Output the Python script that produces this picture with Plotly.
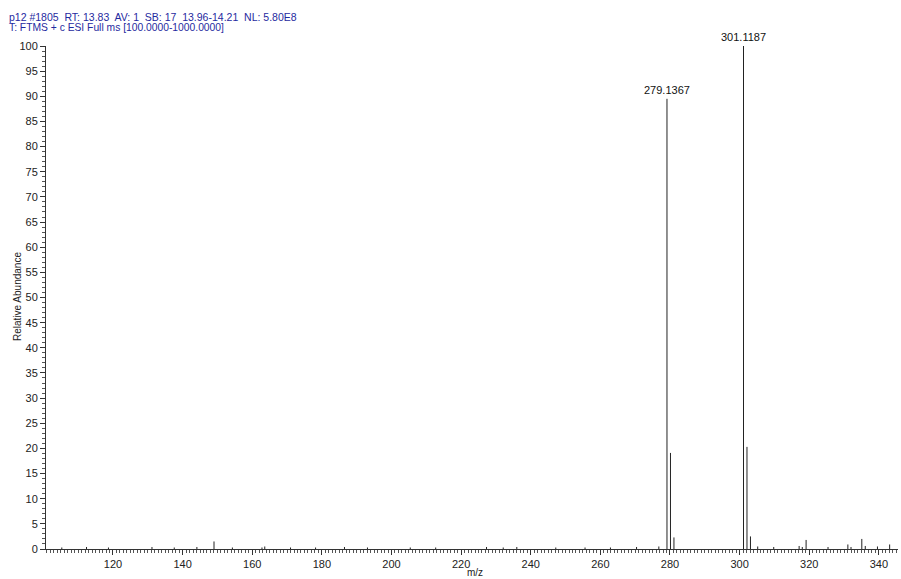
import plotly.graph_objects as go

# Spectrum peaks (m/z, relative abundance %)
mz = [149.02, 279.1367, 280.14, 281.14, 301.1187, 302.12, 303.12,
      317.1, 318.0, 319.1, 331.1, 332.0, 335.1, 336.1, 343.1,
      105.3, 112.4, 118.7, 131.2, 137.6, 144.1, 154.3, 162.8, 163.6, 171.0,
      178.2, 186.5, 193.1, 205.4, 212.7, 227.3, 232.1, 236.0, 247.2,
      255.6, 262.9, 270.4, 276.8, 305.2, 309.8, 325.4, 339.6]
intensity = [1.5, 89.5, 19.1, 2.3, 100.0, 20.3, 2.5,
             0.6, 0.4, 1.8, 0.9, 0.4, 2.0, 0.6, 0.9,
             0.3, 0.4, 0.3, 0.4, 0.3, 0.4, 0.3, 0.3, 0.5, 0.3,
             0.3, 0.4, 0.3, 0.3, 0.3, 0.4, 0.3, 0.4, 0.3,
             0.3, 0.3, 0.4, 0.5, 0.5, 0.4, 0.4, 0.5]
labels = {279.1367: "279.1367", 301.1187: "301.1187"}

header1 = "p12 #1805  RT: 13.83  AV: 1  SB: 17  13.96-14.21  NL: 5.80E8"
header2 = "T: FTMS + c ESI Full ms [100.0000-1000.0000]"

W, H = 901, 579
L, R, T, B = 46, 3, 46, 30
PW, PH = W - L - R, H - T - B

def px_x(p):
    return (p - L) / PW

def px_y(p):
    return (H - B - p) / PH

xs, ys = [], []
for m, h in zip(mz, intensity):
    xs += [m, m, None]
    ys += [0, h, None]

fig = go.Figure()
fig.add_trace(go.Scatter(x=xs, y=ys, mode="lines",
                         line=dict(color="#222222", width=1),
                         hoverinfo="skip", showlegend=False))

for m, t in labels.items():
    h = intensity[mz.index(m)]
    fig.add_annotation(x=m, y=h, text=t, showarrow=False, yshift=9,
                       font=dict(size=11, color="#111111"))

blue = "#1f2aa0"
fig.add_annotation(xref="paper", yref="paper", x=px_x(7), y=px_y(9),
                   xanchor="left", yanchor="top", showarrow=False,
                   text=header1, font=dict(size=10.5, color=blue))
fig.add_annotation(xref="paper", yref="paper", x=px_x(7), y=px_y(20),
                   xanchor="left", yanchor="top", showarrow=False,
                   text=header2, font=dict(size=10.3, color=blue))
fig.add_annotation(xref="paper", yref="paper", x=px_x(475), y=px_y(572),
                   xanchor="center", yanchor="middle", showarrow=False,
                   text="m/z", font=dict(size=10, color="#222222"))
fig.add_annotation(xref="paper", yref="paper", x=px_x(17), y=px_y(297),
                   xanchor="center", yanchor="middle", showarrow=False,
                   textangle=-90,
                   text="Relative Abundance", font=dict(size=10, color="#222222"))

fig.update_layout(
    width=W, height=H,
    margin=dict(l=L, r=R, t=T, b=B),
    paper_bgcolor="white", plot_bgcolor="white",
    font=dict(family="Liberation Sans, Arial, sans-serif", size=11, color="#222222"),
    xaxis=dict(range=[100.76, 345.5], showgrid=False, zeroline=False,
               automargin=False,
               showline=True, linecolor="#333333", linewidth=1,
               tick0=0, dtick=20, ticks="outside", ticklen=5, tickcolor="#333333",
               minor=dict(ticks="outside", ticklen=3, dtick=1, tickcolor="#555555"),
               ),
    yaxis=dict(range=[0, 100], showgrid=False, zeroline=False,
               automargin=False,
               showline=True, linecolor="#333333", linewidth=1,
               tick0=0, dtick=5, ticks="outside", ticklen=5, tickcolor="#333333",
               minor=dict(ticks="outside", ticklen=3, dtick=1, tickcolor="#555555"),
               ),
)

fig.write_html("out.html", config={"displayModeBar": False},
               post_script="document.body.style.margin='0';")
